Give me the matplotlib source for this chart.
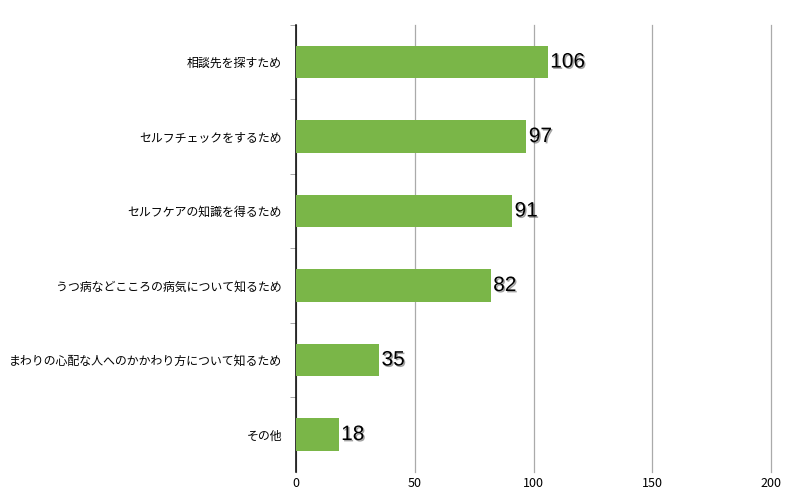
import matplotlib.pyplot as plt
import matplotlib.patheffects as pe

plt.rcParams['font.family'] = ['Noto Sans CJK JP', 'DejaVu Sans']

# データ
categories = ['相談先を探すため', 'セルフチェックをするため', 'セルフケアの知識を得るため',
              'うつ病などこころの病気について知るため',
              'まわりの心配な人へのかかわり方について知るため', 'その他']
values = [106, 97, 91, 82, 35, 18]
xticks = [0, 50, 100, 150, 200]

fig = plt.figure(figsize=(8, 5), dpi=100)
ax = fig.add_axes([0.37, 0.0565, 0.594, 0.894])

pos = list(range(len(categories)))[::-1]
ax.barh(pos, values, height=0.44, color='#7ab648', zorder=3)

ax.set_xlim(0, 200)
ax.set_ylim(-0.5, len(categories) - 0.5)
ax.set_xticks(xticks)
ax.set_xticklabels([str(t) for t in xticks], fontsize=9)
ax.tick_params(axis='x', length=0, pad=4)
ax.grid(axis='x', color='#aaaaaa', linewidth=0.9, zorder=0)
for gl in ax.get_xgridlines():
    gl.set_clip_on(False)

# 左軸のカテゴリ
ax.set_yticks(pos)
ax.set_yticklabels(categories, fontsize=8.6)
ax.tick_params(axis='y', length=0, pad=10)
ax.set_yticks([p + 0.5 for p in pos], minor=True)
ax.tick_params(axis='y', which='minor', length=4, color='#999999', width=0.6)

for s in ['top', 'right', 'bottom']:
    ax.spines[s].set_visible(False)
ax.spines['left'].set_color('black')
ax.spines['left'].set_linewidth(1.1)

# 値ラベル
for p, v in zip(pos, values):
    ax.text(v + 1, p, str(v), va='center', ha='left', fontsize=15,
            family=['Liberation Sans', 'DejaVu Sans'], zorder=4,
            path_effects=[pe.withSimplePatchShadow(offset=(1, -1), shadow_rgbFace='#444444', alpha=0.5)])

fig.savefig('out.png', dpi=100)
